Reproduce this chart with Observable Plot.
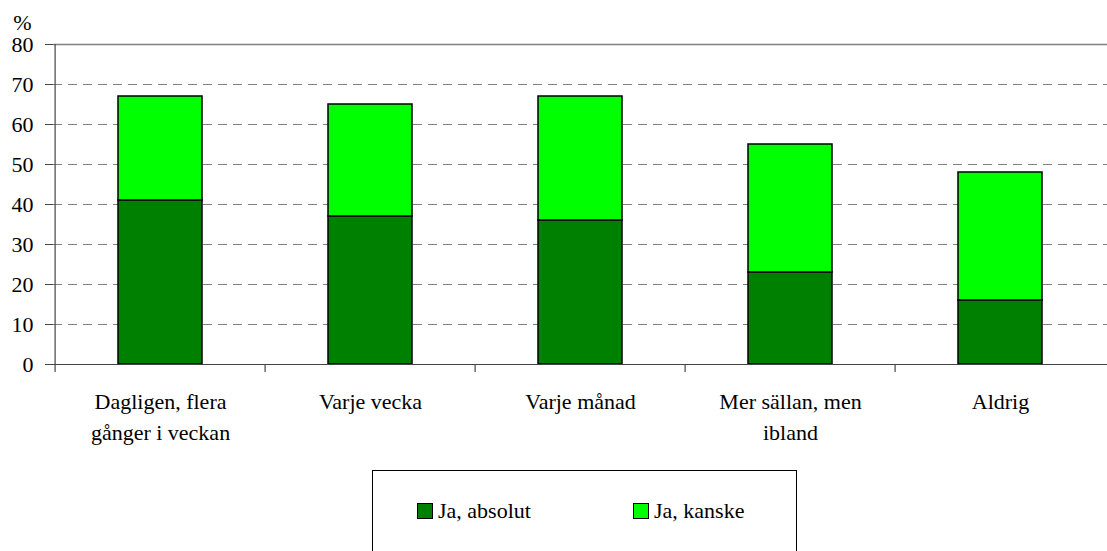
<!DOCTYPE html>
<html>
<head>
<meta charset="utf-8">
<script src="https://cdn.jsdelivr.net/npm/d3@7"></script>
<script src="https://cdn.jsdelivr.net/npm/@observablehq/plot@0.6"></script>
<style>
  body { margin: 0; background: white; }
  #chart svg { display: block; }
  #legend { position: relative; margin-left: 372px; width: 425px; height: 100px; border: 1px solid #000; border-bottom: none; box-sizing: border-box; font-family: 'Liberation Serif'; font-size: 22px; }
  .item { position: absolute; top: 27px; display: flex; align-items: center; }
  .sw { width: 14px; height: 14px; border: 1.5px solid #000; margin-right: 5px; }
</style>
</head>
<body>
<div id="chart"></div>
<div id="legend"></div>
<script>
const categories = ["Dagligen, flera\ngånger i veckan", "Varje vecka", "Varje månad", "Mer sällan, men\nibland", "Aldrig"];
const series = ["Ja, absolut", "Ja, kanske"];
const jaAbsolut = [41, 37, 36, 23, 16];
const jaKanske = [26, 28, 31, 32, 32];
const colors = ["#008000", "#00ff00"];
const yTicks = [0, 10, 20, 30, 40, 50, 60, 70, 80];
const gridTicks = [10, 20, 30, 40, 50, 60, 70];

const data = [];
categories.forEach((c, i) => data.push({cat: c, series: series[0], value: jaAbsolut[i]}));
categories.forEach((c, i) => data.push({cat: c, series: series[1], value: jaKanske[i]}));

const W = 1107, H = 470, mL = 53, mR = 0, mT = 44, mB = 106;
const step = (W - mL - mR) / categories.length;
const FF = "Liberation Serif";

const plot = Plot.plot({
  width: W, height: H,
  marginLeft: mL, marginRight: mR, marginTop: mT, marginBottom: mB,
  style: {fontFamily: FF, fontSize: "22px"},
  x: {domain: categories, paddingInner: 0.6, paddingOuter: 0.3, axis: null},
  y: {domain: [0, 80], axis: null},
  color: {domain: series, range: colors},
  marks: [
    Plot.ruleY(gridTicks, {stroke: "#808080", strokeDasharray: "9,6", strokeWidth: 1.2}),
    Plot.ruleY([80], {stroke: "#808080", strokeWidth: 1.5}),
    Plot.barY(data, {x: "cat", y: "value", fill: "series", stroke: "#000", strokeWidth: 1.5, order: series}),
    Plot.ruleY([0], {stroke: "#444", strokeWidth: 1.2}),
    Plot.ruleX([categories[0]], {y1: 0, y2: 80, dx: -step / 2, stroke: "#444", strokeWidth: 1.2}),
    Plot.ruleX(categories, {y1: 0, y2: 0, insetBottom: -8, dx: -step / 2, stroke: "#444", strokeWidth: 1.2}),
    Plot.axisY(yTicks, {tickSize: 8, tickPadding: 12, stroke: "#444", label: null, fill: "#000"}),
    Plot.text(categories, {x: d => d, y: 0, text: d => d, lineAnchor: "top", lineHeight: 1.42, dy: 22, fill: "#000"}),
    Plot.text(["%"], {frameAnchor: "top-left", text: d => d, dx: -31, dy: -30, textAnchor: "middle", fill: "#000"})
  ]
});
document.getElementById("chart").appendChild(plot);

const legend = document.getElementById("legend");
const offsets = [44, 260];
series.forEach((s, i) => {
  const it = document.createElement("div");
  it.className = "item";
  it.style.left = offsets[i] + "px";
  const sw = document.createElement("div");
  sw.className = "sw";
  sw.style.background = colors[i];
  const t = document.createElement("span");
  t.textContent = s;
  it.appendChild(sw); it.appendChild(t);
  legend.appendChild(it);
});
</script>
</body>
</html>
